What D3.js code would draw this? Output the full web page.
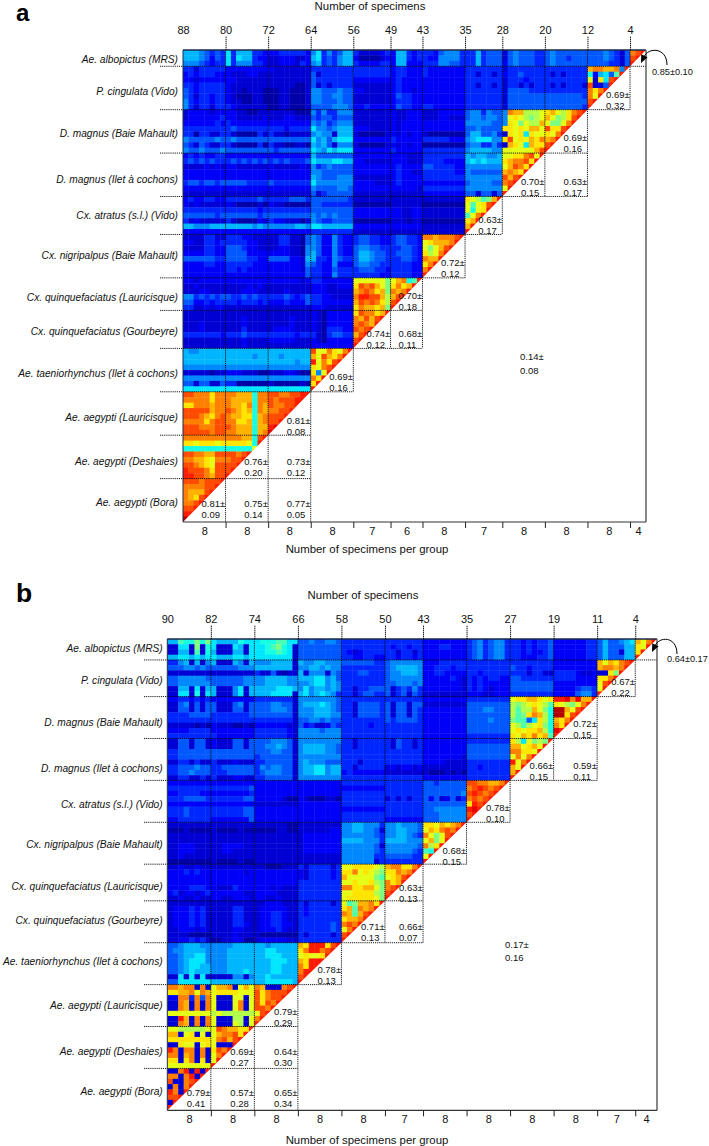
<!DOCTYPE html>
<html><head><meta charset="utf-8">
<script src="https://cdn.jsdelivr.net/npm/d3@7"></script>
<style>
html,body{margin:0;padding:0;background:#fff}
svg{display:block}
text{font-family:"Liberation Sans",Arial,sans-serif;fill:#111}
</style></head><body>
<svg id="chart" width="709" height="1146"></svg>
<script>
// ---- shared categories -------------------------------------------------
const speciesLabels = ["Ae. albopictus (MRS)","P. cingulata (Vido)","D. magnus (Baie Mahault)","D. magnus (Ilet à cochons)","Cx. atratus (s.l.) (Vido)","Cx. nigripalpus (Baie Mahault)","Cx. quinquefaciatus (Lauricisque)","Cx. quinquefaciatus (Gourbeyre)","Ae. taeniorhynchus (Ilet à cochons)","Ae. aegypti (Lauricisque)","Ae. aegypti (Deshaies)","Ae. aegypti (Bora)"];
const axisTitleTop = "Number of specimens";
const axisTitleBottom = "Number of specimens per group";

// ---- panel a ----------------------------------------------------------
const topTicksA = ["88","80","72","64","56","49","43","35","28","20","12","4"];
const bottomLabelsA = ["8","8","8","8","7","6","8","7","8","8","8","4"];
const colSizesA = [8,8,8,8,7,6,8,7,8,8,8,3];
const rowSizesA = [3,8,8,8,7,8,6,7,8,8,8,8];
// group row, group column, mean, sd
const notesA = [[1,10,"0.69±","0.32"],[2,9,"0.69±","0.16"],[3,8,"0.70±","0.15"],[3,9,"0.63±","0.17"],[4,7,"0.63±","0.17"],[5,6,"0.72±","0.12"],[6,5,"0.70±","0.18"],[7,4,"0.74±","0.12"],[7,5,"0.68±","0.11"],[8,3,"0.69±","0.16"],[9,2,"0.81±","0.08"],[10,1,"0.76±","0.20"],[10,2,"0.73±","0.12"],[11,0,"0.81±","0.09"],[11,1,"0.75±","0.14"],[11,2,"0.77±","0.05"]];
const cornerNoteA = "0.85±0.10";
const overallNoteA = ["0.14±","0.08"];
// one character per specimen pair: base-36 digit / 20 = correlation level
const cellsA = [
"66654343 73666332 22333332 57353466 3111123 266323 33245553 3363444 14544433 45444444 44454314 fgh",
"66654243 73766322 11222112 67343566 2000012 266323 32255553 3363444 14544433 45443444 44454314 gh",
"55543233 73555332 11222132 56343566 3222233 266222 33355443 3363444 24544433 45444444 44443314 h",
"33133333 22222222 21111111 33333333 3333333 233222 32222222 3333333 13333333 33333333 effeef5h",
"23233322 21112211 11111111 41333333 3333333 233222 32222222 3313313 23343333 31313333 826749h",
"22122222 22111111 11111111 43333333 2222222 232222 22222222 3333333 13332333 33333333 c1d7gh",
"33233333 21111111 11111001 41313333 1111111 232222 22222222 3313313 13313133 31313331 g114h",
"43233333 21101110 00110001 55444544 2211111 232212 22222222 3333333 14444333 33333333 fdfh",
"43133233 21000110 00110001 55445544 1111111 243322 22222222 3333333 14444444 44444443 fch",
"53233233 21100110 00110001 55444544 1111111 233322 22222222 3333333 14444444 44444444 gh",
"53133133 32111111 00110001 44445554 2232222 243322 33222222 3333333 14444444 44444443 h",
"12222122 22110011 11111000 53533555 1111111 211222 11122222 4553544 5feebbbc decbdfgh",
"12222223 22111112 11122111 43443444 1111111 211222 11122111 4554554 5cdcbabc ecabdgh",
"22222232 32222222 22222222 54534555 1111111 212222 22222222 5555544 5dcacbbe caacfh",
"33333333 34333333 33323333 75545666 2221111 212222 22222222 4454444 ddcdceec gddgh",
"33033113 31000031 31101111 56551666 1000001 212122 10000000 4664453 1dcd7dcc dcfh",
"54444454 45444444 44444444 75646777 2222222 322222 33333222 5677755 dgcdcedf efh",
"43143113 31000030 31100110 65641555 1000001 212122 00000000 4553353 1edc7edd gh",
"54454445 44444444 43444444 76576777 2222222 322222 33333333 5666655 cccccceg h",
"23232233 22222222 22222222 64444444 2222222 222111 33333333 6566556 ccddfgch",
"34343433 34343434 34343334 76667766 2211111 222111 33332222 6767666 deffgdh",
"11112121 22111111 21111121 53454444 2222222 232222 44333322 5555555 cegfdh",
"22222222 22222222 22222222 55444444 2222222 232211 33333322 5444444 efedh",
"22222222 22222222 22222222 65444555 1111111 232222 33333333 5555555 gegh",
"34434434 44443333 43333333 75555555 2222111 232222 22222222 4555544 fgh",
"22222222 22222222 22222222 54444554 2222222 222221 33333333 5555555 ch",
"11111111 11111111 11111111 41344444 1111111 111111 22222222 4414414 h",
"23223322 33333343 33334443 44444443 1111111 111111 11111111 dcb9aeh",
"21211111 21000010 21100000 44333333 0000000 111111 00000000 c9cdgh",
"33333333 33333323 33333333 44444444 2222222 221122 11111111 c8cdh",
"44444434 44444434 44444444 54545444 2222222 221122 11111111 9cfh",
"31211111 31000021 32211101 54334444 0000000 111011 00000000 deh",
"66555666 66666565 55555665 77666666 2222222 222222 11111111 eh",
"22222222 22222222 22222222 33333333 1111111 111111 11111111 h",
"11113311 33322111 11331104 54225322 3443322 344332 ffefffgh",
"22113323 33332211 11331104 54225322 3443322 344332 cdeeefh",
"11113322 44432211 11221105 54225322 4554433 334432 cacegh",
"22223322 44442222 22221105 64225322 4665443 344432 dbcfh",
"44444433 44443322 44442216 63325433 4665443 334432 feeh",
"22223322 33333222 22222215 43225222 4554433 333322 dfh",
"22222222 33232222 22222214 33224333 3444332 333322 fh",
"22222222 22222222 22222224 33225333 3333322 333322 h",
"22122222 22222222 22222212 33222222 cccccca cef89h",
"11211111 11112121 11111111 22211222 dgfgeca dfdeh",
"11122111 11122211 11121111 22211111 efgfdea fefh",
"55343434 43343433 33343234 33221111 fhhggeb egh",
"44223233 33233323 22232224 33222222 egfgfdb gh",
"33112122 11111111 11111111 22211111 dfeedea h",
"11111111 11111111 11111111 21022222 dgffdeh",
"11111111 11121111 11112111 21022222 fegegh",
"11121111 11121111 11112111 21022222 fgfeh",
"11121111 11131111 12222111 21033322 gfgh",
"33333332 33343333 33333233 31034433 egh",
"11111111 11121111 22222111 21022222 gh",
"11111111 11121111 11111111 22222222 h",
"65566666 66666666 66666666 gccfdcfh",
"66666666 66666566 66566666 ecgedfh",
"66666666 66666666 66666566 hcfdgh",
"55555555 55555555 55555555 dcfgh",
"11111011 22211100 11122100 d5ch",
"55555555 55555555 55555555 fdh",
"44144114 33000000 10000010 dh",
"77777777 77777777 77777777 h",
"ggfffdff ffeee8ff ggffgghh",
"fffffdff feeee8ff gfggghh",
"ddfffeff feedf8fe gffggh",
"gggggeff gfede8fe ffggh",
"gggfedfg feedd8ef gggh",
"ffffdfgg ffdde8ef ggh",
"gggfffgg gfeee8ee hi",
"gggggfgg ffeee8ef i",
"ffffffff fffee8gh",
"ddcdddcd ddddc8h",
"88888888 88888c",
"ggffeegg ggfgh",
"ffeedcff fggh",
"ggfedcgg ggh",
"hgggfdgg gh",
"hhggfegg h",
"gggfgggh","ffffggh","feeegh","fedgh","ffgh","ggh","hh","j"
];

// ---- panel b ----------------------------------------------------------
const topTicksB = ["90","82","74","66","58","50","43","35","27","19","11","4"];
const bottomLabelsB = ["8","8","8","8","8","7","8","8","8","8","7","4"];
const colSizesB = [8,8,8,8,8,7,8,8,8,8,7,4];
const rowSizesB = [4,7,8,8,8,8,7,8,8,8,8,8];
const notesB = [[1,10,"0.67±","0.22"],[2,9,"0.72±","0.15"],[3,8,"0.66±","0.15"],[3,9,"0.59±","0.11"],[4,7,"0.78±","0.10"],[5,6,"0.68±","0.15"],[6,5,"0.63±","0.13"],[7,4,"0.71±","0.13"],[7,5,"0.66±","0.07"],[8,3,"0.78±","0.13"],[9,2,"0.79±","0.29"],[10,1,"0.69±","0.27"],[10,2,"0.64±","0.30"],[11,0,"0.79±","0.41"],[11,1,"0.57±","0.28"],[11,2,"0.65±","0.34"]];
const cornerNoteB = "0.64±0.17";
const overallNoteB = ["0.17±","0.16"];
const cellsB = [
"66988a8a 76666877 78889977 44544554 33333333 3333333 22222222 34534553 33232334 22222233 4644567 ecfh",
"11771a18 71117617 7789a871 44444444 33333333 3233233 22233222 34534553 33232334 22222233 4644466 dch",
"11661918 61116617 77889871 44444444 32123333 3313313 22222222 34534553 33232234 22222233 4644166 dh",
"66776767 76667767 77777771 44444444 33223322 3323323 22222222 34534553 33222334 22222233 4644466 h",
"33561615 61116516 55566661 65566555 44444433 4555555 22233333 33333333 33333333 22222222 ecedfgh",
"44455454 44444555 66666661 55665655 33333333 4566665 22333233 33333333 43323333 22222222 effefh",
"11111111 11111111 31141011 61555154 33344333 4556665 22332222 33233333 33313311 33332112 11dah",
"44555554 44444455 55666655 66677564 33333333 4555555 22222321 32323322 44333333 33332222 ddfh",
"44555555 44444455 55666655 55677565 33333333 4455545 22222221 32322222 44444444 22222222 cgh",
"11661716 61115716 66667776 57566565 33133444 4134353 22222221 32321222 44444444 22223443 ch",
"11771817 61115716 66677771 67567653 33134433 4134143 11111111 22211222 33333333 22224553 h",
"22332323 22222222 33333331 55555554 33333333 3333333 22222222 33333333 cddeedcd hhifieeh",
"11451414 41114514 44455441 56667654 33144443 4144144 11111111 44444444 babcdcb9 dcbacfh",
"11441414 41114414 44455541 55566654 33144443 4144143 22222222 44455444 b9bbeca8 jjecgh",
"33334444 33333334 44444441 55566655 33144443 4144143 22222222 44444444 b9adfeb8 jjdgh",
"33333333 33333333 33333331 44554544 33333333 4344443 22222222 44445444 a9947db8 edfh",
"11111010 21110010 22222211 42311243 33333233 3333333 22222222 44444444 cb9bcda8 fdh",
"22223333 22222222 33333321 55554555 33333333 3333333 22222222 44444444 cdcddeb8 ih",
"33333333 32222222 33333321 55555555 33333333 3333333 22222222 33333333 dcedfde9 h",
"11441441 21114414 44455541 55555555 33133333 3143313 22222222 33333333 db7cabah",
"11441441 21114414 44556541 56666554 33133333 3143313 22222222 44444444 eecdech",
"33444444 44444444 44455441 56666554 33333333 3333333 22222222 44444444 ffddch",
"33444444 44444444 34444441 55555555 33333333 3333333 22222221 44444444 cfcfh",
"11331311 31112111 33444441 56555444 33313333 3333333 22221111 33333333 hcfh",
"33444544 33444444 35455441 56677566 33133333 1212212 11111111 33233333 ech",
"33445444 33344444 34555441 56677566 23222222 1111111 10001010 33333333 eh",
"11331131 31112211 33444441 55555555 33333333 3333333 22222222 33333333 h",
"22222222 22222222 22222222 22222222 33333333 3333333 44344444 ggffeefh",
"33333333 33333334 22222222 22222222 22222222 3333333 44444444 fghgfgh",
"22333322 22222223 22222222 22222222 33333333 3333333 44444445 ghgfgh",
"33344443 33333344 22222100 21000110 33333333 1313133 42412413 fgfgh",
"22222222 22222222 11111111 22222222 33333333 3333333 44444444 dhgh",
"33343333 33333344 22222222 22222222 22222222 3333333 44555555 hih",
"33343333 33333344 22222222 22222222 33333333 3333333 44455555 gh",
"22333333 22222224 22222222 22222222 33333333 2222222 44455555 h",
"11111111 11111111 11111100 11111111 55665553 5565554 ddcedefh",
"00010000 10000100 00001100 11111122 55665541 5566554 cedfgfh",
"11111111 11111111 11111111 12222222 55555543 5566543 fcacgh",
"11111111 11111111 11111111 12222222 66665553 6666555 ceach",
"11222111 11222211 11111111 12222222 55555541 5555554 fbdh",
"11222111 11221111 11111111 12222222 55555543 5555543 98h",
"11211111 11111111 11111111 11111111 55555533 4444433 ch",
"00000000 10000100 11111111 11111111 55555513 3333333 h",
"11211211 11111111 11000111 31333313 ccddddcb effddfh",
"22232322 22222212 22222222 21333323 ddfcdcba ddfefh",
"22222222 22222222 22222222 21333323 eccccca9 cdegh",
"22222222 22222222 22222222 33333333 ccdccdba fdeh",
"22223332 21113222 22212111 33333333 ffddeeca fgh",
"23122123 22222211 22221111 33333333 ccddddba gh",
"11211211 22112221 22112111 33333333 cdddddca h",
"11111111 11111111 11222111 31333313 c9aeefdh",
"12223231 11113311 12222211 32333333 de9fefh",
"12223231 11113311 12233211 32333333 fe9egh",
"12223231 11113311 12233211 33333333 deefh",
"12223231 11113321 12233221 33333343 fgfh",
"11222121 11112211 12223211 33333343 cfh",
"11110000 11112111 10000000 31333313 gh",
"11223231 00112200 12222211 33333333 h",
"44566655 55556666 66566666 edhhhdgh",
"45566665 55566666 66776666 dfhhfgh",
"44566775 55566666 66777666 cdccdh",
"44567775 55566666 66677766 edhhh",
"44567766 55566666 66677666 fdhh",
"44567666 55566676 66677666 fhh",
"11717171 11115515 66766666 gh",
"44777777 66666666 66777776 h",
"ffeff1f1 ceef1cec fe111fgh",
"ddeefcfe cddddccc gdfgggh",
"22ff3f4f c111cc1c gdfggh",
"11fe1f1f c111cf1c gdgfh",
"11fe1f1f c111cf1c ggfh",
"cccccccc bcbbbbbb cgh",
"11he1f1f c111bb1c fh",
"11fe1f1f c111cb1c h",
"ccbbbbbc cgfeeddh",
"ee1cd1c1 ceffgdh",
"dddddddd cfgegh",
"11dcc1cd c111h",
"hf1ff1f1 dgfh",
"ff1ef1f1 cfh",
"dd1df1d1 ch",
"cccccccc h",
"11fh1h1h","ff1fh1h","g11fgh","1f1fh","hf1h","ggh","1h","h"
];

// ---- structure of the dotted grid (which group each line runs to) ------
const gridDownTo = [11,11,11,8,7,7,5,4,3,3,1];
const gridAcrossTo = [11,10,9,9,7,6,5,5,3,2,2];

// ---- layout ------------------------------------------------------------
const layoutA = {letter:"a",letterY:20.5,left:183,right:646,top:50,bottom:522,labelEnd:178,tickStart:160,
  titleY:10,titleX:370,bottomTitleX:367,bottomTitleY:553,cornerDx:6,arrowDx:21,cornerY:75,overallX:520,overallY:[360,374],
  labelDy:[-6.5,-18,-19.3,-16.7,-19,-22,-13,-17.3,-18.3,-17.6,-16.6,-19.7],lift:[0,0,0,0,0,0,0,0,0,0,1.5,3]};
const layoutB = {letter:"b",letterY:602,left:167.3,right:657,top:639,bottom:1110.3,labelEnd:162.7,tickStart:144,
  titleY:599,titleX:363,bottomTitleX:367,bottomTitleY:1144,cornerDx:10,arrowDx:20,cornerY:662,overallX:505,overallY:[948,961],
  labelDy:[-11,-15.7,-15.7,-12,-17.6,-19.7,-14.7,-22.6,-22.7,-21.3,-17,-18.7],lift:[0,0,0,0,0,-1,-2,1,0,0,2,2.5]};

// ---- colour scale (jet, with a slightly lifted dark end) ----------------
const jet = d3.scaleLinear()
  .domain([0,0.05,0.1,0.15,0.375,0.5,0.625,0.875,0.89,1])
  .range(["#0000a8","#0000d4","#0004f8","#0028ff","#00ffff","#7fff7f","#ffff00","#ff0000","#f50000","#7f0000"])
  .clamp(true);
const level = c => parseInt(c,36)/20;
const cum = a => { const o=[0]; a.forEach(v=>o.push(o[o.length-1]+v)); return o; };

const svg = d3.select("#chart");
const defs = svg.append("defs");
defs.append("filter").attr("id","soft").attr("x","-2%").attr("y","-2%").attr("width","104%").attr("height","104%")
  .append("feGaussianBlur").attr("stdDeviation",0.7);

function panel(L, cells, colSizes, rowSizes, tickLabels, bottomLabels, notes, cornerNote, overallNote){
  const rows = cells.map(s=>s.replace(/ /g,""));
  const N = rows.length;
  const xPos = d3.scaleLinear().domain([0,N]).range([L.left,L.right]);
  const yPos = d3.scaleLinear().domain([0,N]).range([L.top,L.bottom]);
  const xBand = d3.scaleBand().domain(d3.range(N)).range([L.left,L.right]);
  const yBand = d3.scaleBand().domain(d3.range(N)).range([L.top,L.bottom]);
  const colEdges = cum(colSizes), rowEdges = cum(rowSizes);
  const g = svg.append("g");
  const clipId = "tri"+L.letter;
  defs.append("clipPath").attr("id",clipId).append("polygon")
    .attr("points",[[L.left,L.top],[L.right,L.top],[L.left,L.bottom]].join(" "));
  const flat = rows.flatMap((s,r)=>Array.from(s,(c,k)=>({r,k,v:level(c)})));
  g.append("g").attr("clip-path",`url(#${clipId})`)
   .append("g").attr("filter","url(#soft)")
   .selectAll("rect").data(flat).join("rect")
    .attr("x",d=>xBand(d.k)).attr("y",d=>yBand(d.r))
    .attr("width",xBand.bandwidth()+0.4).attr("height",yBand.bandwidth()+0.4)
    .attr("fill",d=>jet(d.v));

  // dotted grid
  const dot = sel => sel.attr("stroke","#000").attr("stroke-width",0.9).attr("stroke-dasharray","1.2,0.9").attr("fill","none");
  gridDownTo.forEach((rg,i)=>{ const x=xPos(colEdges[i+1]);
    g.append("line").attr("x1",x).attr("x2",x).attr("y1",L.top).attr("y2",yPos(rowEdges[rg+1])).call(dot); });
  gridAcrossTo.forEach((cg,i)=>{ const y=yPos(rowEdges[i+1]);
    g.append("line").attr("x1",L.tickStart).attr("x2",xPos(colEdges[cg+1])).attr("y1",y).attr("y2",y).call(dot); });

  // frame
  g.append("line").attr("x1",L.left).attr("x2",L.right).attr("y1",L.top).attr("y2",L.top).attr("stroke","#1c2a4a").attr("stroke-width",1.3);
  g.append("line").attr("x1",L.left).attr("x2",L.left).attr("y1",L.top).attr("y2",L.bottom).attr("stroke","#1c2a4a").attr("stroke-width",1);
  g.append("line").attr("x1",L.right).attr("x2",L.right).attr("y1",L.top).attr("y2",L.bottom).attr("stroke","#555").attr("stroke-width",1.4);

  // top axis
  const axT = d3.axisTop(xPos).tickValues(colEdges.slice(0,12)).tickFormat((d,i)=>tickLabels[i]).tickSize(14).tickPadding(2);
  const gT = g.append("g").attr("transform",`translate(0,${L.top})`).call(axT);
  gT.select(".domain").remove();
  gT.selectAll("text").attr("font-size",11).style("fill","#111");
  gT.selectAll("line").attr("stroke","#000").attr("stroke-width",0.9).attr("stroke-dasharray","1.4,0.6").attr("opacity",(d,i)=>i?1:0);

  // bottom axis: ticks on group edges, labels at group centres
  const axB = d3.axisBottom(xPos).tickValues(colEdges.slice(1,12)).tickFormat("").tickSize(6);
  const gB = g.append("g").attr("transform",`translate(0,${L.bottom})`).call(axB);
  gB.select(".domain").attr("stroke","#333").attr("stroke-width",1.2).attr("d",`M${L.left},0H${L.right}`);
  gB.selectAll("line").attr("stroke","#222");
  const mids = colSizes.map((s,i)=>colEdges[i]+s/2);
  const axL = d3.axisBottom(xPos).tickValues(mids).tickFormat((d,i)=>bottomLabels[i]).tickSize(0).tickPadding(5);
  const gL = g.append("g").attr("transform",`translate(0,${L.bottom})`).call(axL);
  gL.select(".domain").remove();
  gL.selectAll("text").attr("font-size",11).style("fill","#111");

  // titles
  g.append("text").attr("x",L.titleX).attr("y",L.titleY).attr("text-anchor","middle").attr("font-size",11.4).text(axisTitleTop);
  g.append("text").attr("x",L.bottomTitleX).attr("y",L.bottomTitleY).attr("text-anchor","middle").attr("font-size",11.4).text(axisTitleBottom);
  g.append("text").attr("x",16).attr("y",L.letterY).attr("font-size",L.letter==="a"?24:26.5).attr("font-weight","bold").style("fill","#000").text(L.letter);

  // species labels (placed up from each group's lower edge)
  g.selectAll("text.sp").data(speciesLabels).join("text").attr("class","sp")
    .attr("x",L.labelEnd).attr("y",(d,i)=>yPos(rowEdges[i+1])+L.labelDy[i]+3.5)
    .attr("text-anchor","end").attr("font-size",10.2).attr("font-style","italic").text(d=>d);

  // block notes
  notes.forEach(n=>{
    const x = xPos(colEdges[n[1]+1])-24, y = yPos(rowEdges[n[0]+1])-L.lift[n[0]];
    g.append("text").attr("x",x).attr("y",y-11.6).attr("font-size",9.5).text(n[2]);
    g.append("text").attr("x",x).attr("y",y-0.6).attr("font-size",9.5).text(n[3]);
  });
  g.append("text").attr("x",L.overallX).attr("y",L.overallY[0]).attr("font-size",9.5).text(overallNote[0]);
  g.append("text").attr("x",L.overallX).attr("y",L.overallY[1]).attr("font-size",9.5).text(overallNote[1]);
  g.append("text").attr("x",L.right+L.cornerDx).attr("y",L.cornerY).attr("font-size",9.2).text(cornerNote);

  // curved arrow with its head drawn at the corner
  const tipX = L.right-5, tipY = L.top+13;
  const p = d3.path();
  p.moveTo(L.right+L.arrowDx, L.top+15);
  p.bezierCurveTo(L.right+L.arrowDx, L.top-3, L.right+2, L.top-3, tipX+3, tipY-6);
  g.append("path").attr("d",p.toString()).attr("fill","none").attr("stroke","#000").attr("stroke-width",1);
  const h = d3.path();
  h.moveTo(tipX,tipY); h.lineTo(tipX+6.6,tipY-5.8); h.lineTo(tipX+0.2,tipY-8.8); h.closePath();
  g.append("path").attr("d",h.toString()).attr("fill","#000");
}

panel(layoutA, cellsA, colSizesA, rowSizesA, topTicksA, bottomLabelsA, notesA, cornerNoteA, overallNoteA);
panel(layoutB, cellsB, colSizesB, rowSizesB, topTicksB, bottomLabelsB, notesB, cornerNoteB, overallNoteB);
</script>
</body></html>
